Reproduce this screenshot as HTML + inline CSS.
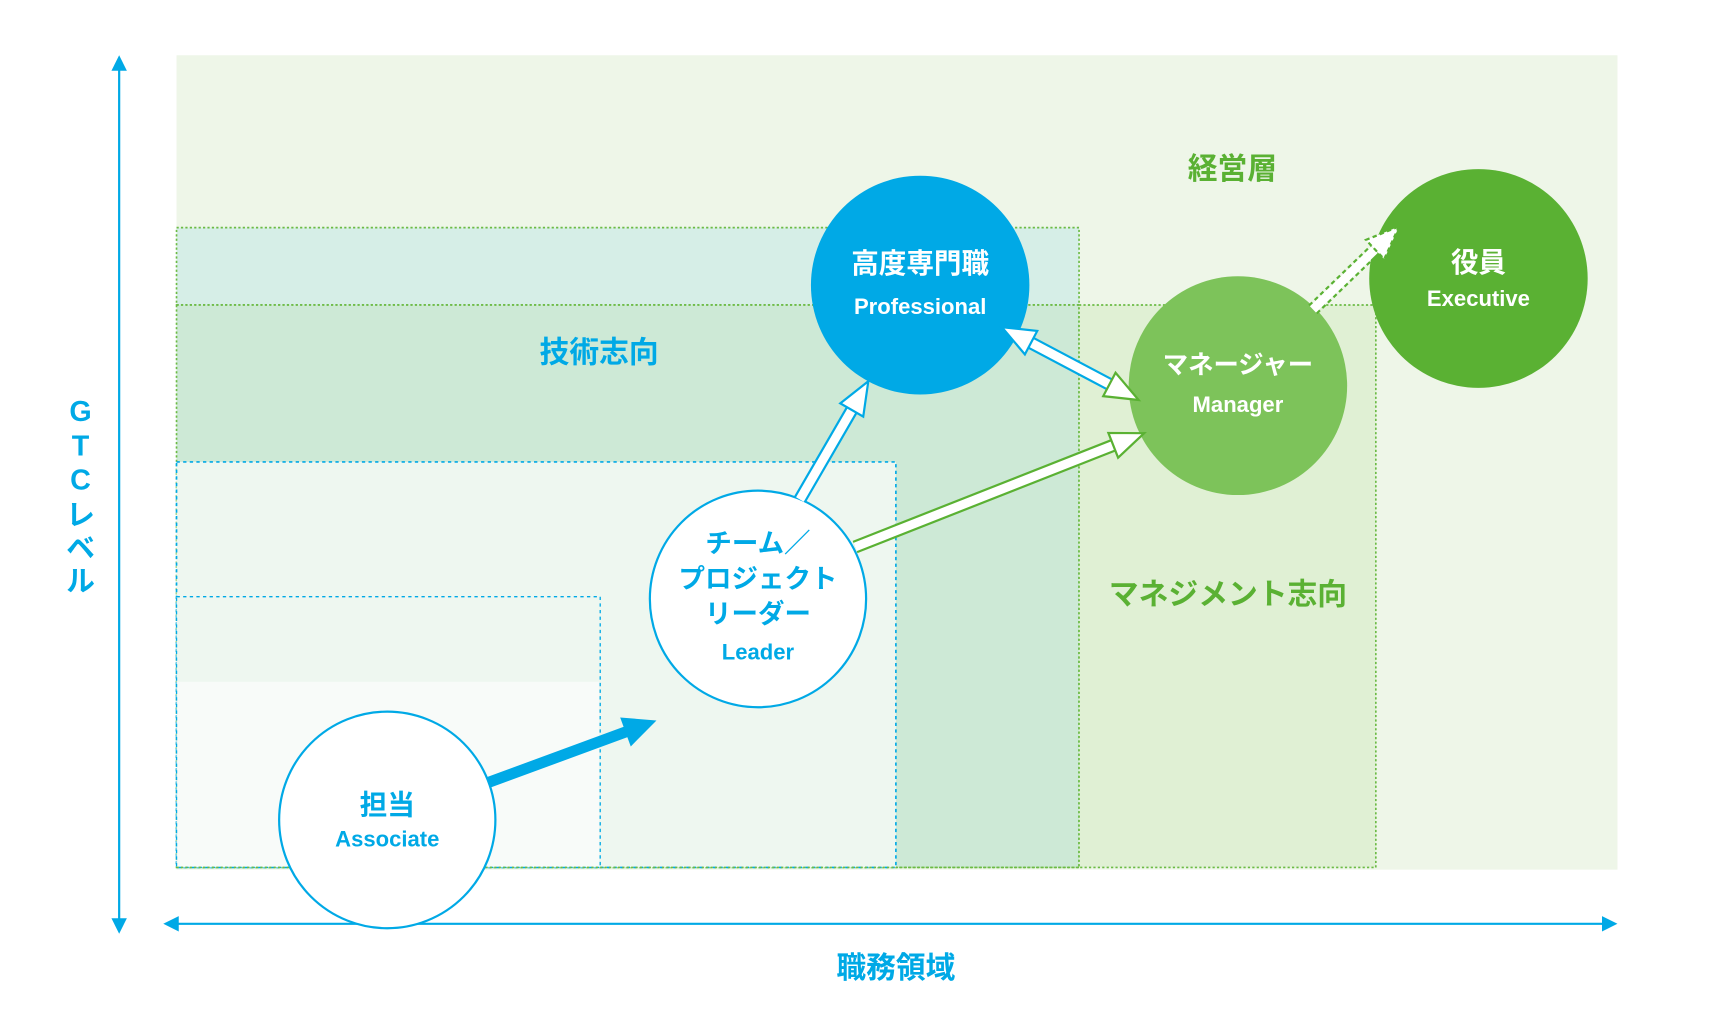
<!DOCTYPE html>
<html><head><meta charset="utf-8">
<style>
html,body{margin:0;padding:0;background:#fff;width:1730px;height:1010px;overflow:hidden}
svg{display:block}
text{font-family:"Liberation Sans","Noto Sans CJK JP",sans-serif;font-weight:bold;text-anchor:middle}
</style></head><body>
<svg width="1730" height="1010" viewBox="0 0 1568 914" preserveAspectRatio="none">
<rect x="160" y="50" width="1306" height="737" fill="#eef6e8"/>
<rect x="160" y="206" width="818" height="70" fill="#d6eee7" stroke="#6cbb45" stroke-width="1.5" stroke-dasharray="2,2"/>
<rect x="160" y="276" width="818" height="509" fill="#cde9d6" stroke="#6cbb45" stroke-width="1.5" stroke-dasharray="2,2"/>
<rect x="978" y="276" width="269" height="509" fill="#e0f0d4" stroke="#6cbb45" stroke-width="1.5" stroke-dasharray="2,2"/>
<rect x="160" y="418" width="652" height="367" fill="#eef7f0" stroke="#00a9e6" stroke-width="1.5" stroke-dasharray="3,3"/>
<rect x="160" y="540" width="384" height="245" fill="#eef7f0" stroke="#00a9e6" stroke-width="1.2" stroke-dasharray="3,3"/>
<rect x="161" y="617" width="382" height="167" fill="#f8fbf9"/>
<line x1="160" y1="785" x2="978" y2="785" stroke="#6cbb45" stroke-width="1.5" stroke-dasharray="2,2"/>

<text x="543" y="328" font-size="27" fill="#00a9e6">技術志向</text>
<text x="1117" y="162" font-size="27" fill="#5ab133">経営層</text>
<text x="1113" y="547" font-size="27" fill="#5ab133">マネジメント志向</text>

<line x1="108" y1="60" x2="108" y2="835" stroke="#00a9e6" stroke-width="2"/>
<polygon points="108,50 101,64 115,64" fill="#00a9e6"/>
<polygon points="108,845 101,831 115,831" fill="#00a9e6"/>
<line x1="158" y1="836" x2="1456" y2="836" stroke="#00a9e6" stroke-width="2"/>
<polygon points="148,836 162,829 162,843" fill="#00a9e6"/>
<polygon points="1466,836 1452,829 1452,843" fill="#00a9e6"/>
<text x="812" y="885" font-size="27" fill="#00a9e6">職務領域</text>
<g font-size="26" fill="#00a9e6">
<text x="73" y="381">G</text><text x="73" y="412">T</text><text x="73" y="443">C</text>
<text x="73" y="475">レ</text><text x="73" y="505">ベ</text><text x="73" y="535">ル</text>
</g>

<circle cx="834" cy="258" r="99" fill="#00a9e6"/>
<circle cx="1122" cy="349" r="99" fill="#7dc35a"/>
<circle cx="1340" cy="252" r="99" fill="#5ab133"/>
<circle cx="687" cy="542" r="98" fill="#fff" stroke="#00a9e6" stroke-width="2"/>
<circle cx="351" cy="742" r="98" fill="#fff" stroke="#00a9e6" stroke-width="2"/>

<line x1="443" y1="708" x2="568" y2="662" stroke="#00a9e6" stroke-width="10"/>
<polygon points="595,652 571.7,675.5 562.1,649.3" fill="#00a9e6"/>

<g stroke-linejoin="miter">
<line x1="725" y1="452" x2="772" y2="371" stroke="#00a9e6" stroke-width="12"/>
<line x1="725" y1="452" x2="772" y2="371" stroke="#fff" stroke-width="8"/>
<polygon points="787,345 782.4,377 761.6,365" fill="#fff" stroke="#00a9e6" stroke-width="2"/>

<line x1="775" y1="495" x2="1009" y2="403" stroke="#5ab133" stroke-width="12"/>
<line x1="775" y1="495" x2="1009" y2="403" stroke="#fff" stroke-width="8"/>
<polygon points="1037,392 1013.4,414.2 1004.6,391.8" fill="#fff" stroke="#5ab133" stroke-width="2"/>

<line x1="934" y1="310" x2="1006" y2="348" stroke="#00a9e6" stroke-width="12"/>
<line x1="934" y1="310" x2="1006" y2="348" stroke="#fff" stroke-width="8"/>
<polygon points="1032,362 999.9,358.5 1011.1,337.3" fill="#fff" stroke="#5ab133" stroke-width="2"/>
<polygon points="908,296 928.9,320.7 940.1,299.5" fill="#fff" stroke="#00a9e6" stroke-width="2"/>

<line x1="1190" y1="280" x2="1246" y2="226" stroke="#5ab133" stroke-width="12" stroke-dasharray="4,3"/>
<line x1="1190" y1="280" x2="1246" y2="226" stroke="#fff" stroke-width="8"/>
<polygon points="1268,205 1254.6,234.5 1238,217.1" fill="#fff" stroke="#5ab133" stroke-width="2" stroke-dasharray="4,3"/>
</g>

<text x="834" y="247" font-size="25" fill="#fff">高度専門職</text>
<text x="834" y="284" font-size="20" fill="#fff">Professional</text>
<text x="1122" y="338" font-size="23" fill="#fff">マネージャー</text>
<text x="1122" y="373" font-size="20" fill="#fff">Manager</text>
<text x="1340" y="246" font-size="25" fill="#fff">役員</text>
<text x="1340" y="277" font-size="20" fill="#fff">Executive</text>
<g fill="#00a9e6">
<text x="687" y="500" font-size="24">チーム／</text>
<text x="687" y="532" font-size="24">プロジェクト</text>
<text x="687" y="564" font-size="24">リーダー</text>
<text x="687" y="597" font-size="20">Leader</text>
<text x="351" y="737" font-size="25">担当</text>
<text x="351" y="766" font-size="20">Associate</text>
</g>
</svg>
</body></html>
